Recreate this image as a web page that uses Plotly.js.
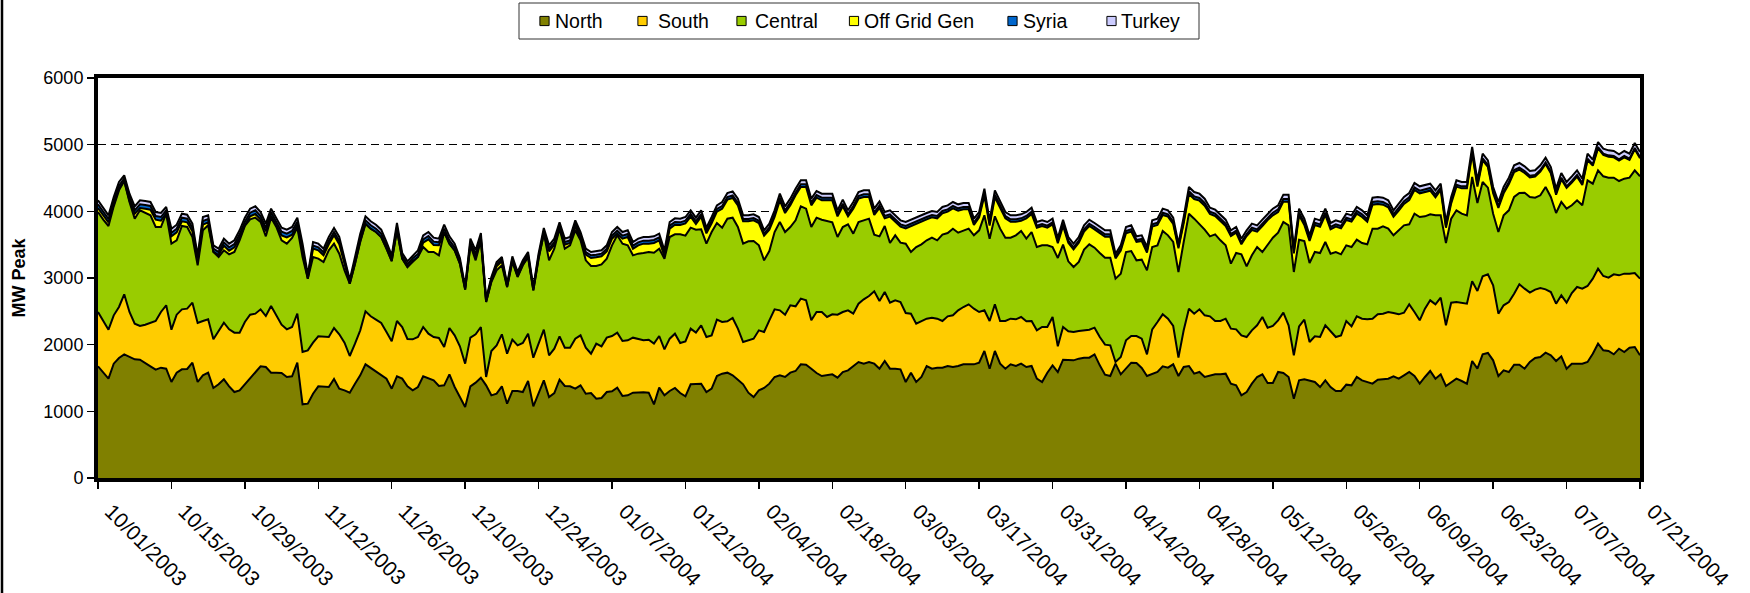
<!DOCTYPE html>
<html>
<head>
<meta charset="utf-8">
<script src="https://cdn.plot.ly/plotly-3.0.1.min.js"></script>
<style>html,body{margin:0;padding:0;background:#fff;}#chart{width:1750px;height:593px;}</style>
</head>
<body>
<div id="chart"></div>
<script>
// ---- categories: one value per day, starting 10/01/2003 (day 0) to 07/21/2004 (day 294)
const startDay = '2003-10-01';
const tickDates = ['2003-10-01','2003-10-15','2003-10-29','2003-11-12','2003-11-26','2003-12-10','2003-12-24',
  '2004-01-07','2004-01-21','2004-02-04','2004-02-18','2004-03-03','2004-03-17','2004-03-31','2004-04-14',
  '2004-04-28','2004-05-12','2004-05-26','2004-06-09','2004-06-23','2004-07-07','2004-07-21'];
const tickLabels = ['10/01/2003','10/15/2003','10/29/2003','11/12/2003','11/26/2003','12/10/2003','12/24/2003',
  '01/07/2004','01/21/2004','02/04/2004','02/18/2004','03/03/2004','03/17/2004','03/31/2004','04/14/2004',
  '04/28/2004','05/12/2004','05/26/2004','06/09/2004','06/23/2004','07/07/2004','07/21/2004'];
const seriesNames = ['North','South','Central','Off Grid Gen','Syria','Turkey'];

// ---- values (MW). Boundaries of the stacked areas.
// top of North band (= North)
const northTop = [
1675,1580,1490,1715,1800,1855,1815,1780,1775,1730,1675,1625,1655,1640,1440,1580,1630,1635,1730,1440,1540,1580,1350,1405,1480,1375,1290,1315,1405,1490,1580,1675,1665,1580,1580,1575,1515,1525,
1730,1105,1115,1265,1375,1365,1365,1485,1340,1315,1280,1415,1540,1705,1650,1600,1540,1490,1340,1525,1490,1375,1315,1365,1525,1500,1465,1380,1390,1555,1365,1215,1065,1375,1430,1505,
1390,1240,1265,1375,1115,1305,1305,1290,1455,1075,1265,1465,1215,1275,1475,1380,1375,1340,1390,1265,1275,1190,1200,1290,1300,1355,1230,1240,1280,1285,1285,1280,1105,1355,1240,1305,
1350,1275,1225,1405,1415,1415,1290,1340,1530,1565,1580,1540,1475,1405,1280,1215,1315,1350,1415,1515,1540,1515,1580,1605,1705,1700,1640,1575,1530,1540,1555,1505,1590,1615,1675,1740,1715,1740,
1715,1640,1755,1640,1640,1630,1440,1580,1440,1515,1680,1640,1655,1655,1680,1665,1680,1705,1705,1705,1730,1905,1640,1905,1715,1640,1705,1680,1715,1665,1680,1490,1440,1580,1690,
1590,1775,1775,1765,1790,1805,1805,1855,1690,1550,1530,1715,1555,1640,1730,1725,1650,1530,1555,1590,1675,1655,1705,1530,1665,1680,1565,1590,1515,1530,1555,1555,1565,1415,1390,1240,1290,
1415,1515,1555,1425,1425,1590,1575,1515,1190,1465,1480,1465,1440,1365,1465,1365,1305,1305,1400,1390,1515,1465,1440,1415,1475,1480,1490,1525,1490,1540,1590,1530,1415,1515,1605,1490,1555,
1380,1440,1490,1455,1415,1755,1640,1855,1875,1765,1530,1615,1590,1700,1700,1640,1740,1800,1815,1880,1840,1755,1825,1640,1715,1715,1715,1740,1865,2015,1915,1905,1855,1940,1890,1955,1965,1840];
// top of South band (North + South)
const southTop = [
2490,2355,2225,2440,2565,2755,2490,2315,2280,2300,2325,2355,2490,2590,2225,2450,2530,2540,2630,2325,2355,2380,2080,2215,2330,2230,2180,2180,2340,2450,2465,2530,2430,2580,2430,2300,2230,2265,
2465,1890,1915,2030,2125,2115,2115,2250,2155,2030,1830,2015,2215,2500,2425,2375,2325,2190,2050,2355,2265,2085,2080,2115,2265,2165,2115,2100,1965,2250,2140,1975,1715,2105,2155,2265,
1515,1905,1990,2155,1865,2075,1990,2025,2165,1805,2015,2225,1840,1940,2125,1955,1955,2090,2140,1955,1865,2015,1975,2105,2130,2180,2055,2065,2105,2080,2065,2075,2015,2130,1930,2090,
2165,2025,2050,2240,2180,2290,2115,2140,2375,2340,2350,2400,2240,2040,2065,2090,2215,2190,2365,2530,2515,2450,2590,2575,2690,2665,2365,2490,2490,2415,2455,2450,2490,2515,2465,2615,2680,2730,
2800,2655,2790,2630,2665,2640,2475,2465,2315,2355,2390,2405,2390,2355,2425,2440,2515,2565,2605,2540,2490,2515,2355,2605,2355,2355,2390,2380,2415,2350,2355,2215,2265,2265,2415,
1975,2265,2200,2190,2205,2215,2225,2255,2115,2000,1990,1740,1815,2065,2130,2130,2090,1855,2230,2340,2455,2390,2280,1805,2215,2540,2465,2530,2440,2425,2355,2355,2390,2240,2230,2140,2115,
2215,2290,2415,2255,2280,2365,2480,2290,1840,2275,2375,2040,2125,2115,2290,2200,2115,2140,2355,2275,2425,2390,2380,2390,2455,2465,2490,2475,2455,2480,2605,2490,2365,2540,2665,2605,2705,
2290,2630,2640,2630,2615,2950,2805,3025,3055,2890,2465,2590,2640,2765,2905,2840,2780,2825,2850,2830,2790,2615,2740,2630,2775,2865,2840,2880,2990,3140,3030,3005,3055,3040,3065,3065,3075,2990];
// top of Central band
const centralTop = [
3990,3875,3780,4075,4315,4455,4140,3890,4015,3975,3940,3765,3765,3965,3515,3565,3780,3765,3615,3190,3715,3790,3390,3315,3415,3355,3390,3565,3780,3880,3905,3840,3625,3905,3765,3565,3515,3600,
3755,3315,2990,3315,3290,3240,3415,3515,3365,3115,2915,3215,3540,3815,3740,3690,3615,3440,3255,3715,3290,3165,3240,3315,3465,3390,3390,3340,3690,3515,3415,3215,2825,3490,3265,3565,
2640,2940,3115,3190,2865,3240,3015,3190,3315,2815,3290,3665,3265,3440,3740,3440,3490,3715,3565,3265,3180,3180,3205,3290,3490,3640,3515,3490,3340,3365,3375,3390,3380,3440,3290,3615,
3655,3655,3635,3755,3725,3730,3515,3690,3825,3755,3890,3905,3765,3515,3550,3555,3490,3265,3405,3690,3840,3690,3765,3865,4075,4040,3765,3905,3875,3850,3835,3615,3765,3805,3665,3840,3865,3890,
3650,3625,3780,3525,3640,3530,3515,3390,3465,3505,3565,3605,3565,3650,3675,3740,3680,3715,3740,3640,3715,3940,3590,3925,3740,3605,3605,3640,3705,3590,3690,3465,3490,3490,3465,
3300,3500,3250,3165,3240,3425,3505,3455,3375,3305,3305,2990,3065,3390,3405,3265,3275,3115,3465,3490,3705,3640,3540,3090,3540,3965,3890,3815,3725,3625,3655,3565,3490,3215,3375,3355,3175,
3340,3465,3390,3490,3605,3680,3840,3790,3090,3575,3555,3225,3390,3375,3540,3365,3390,3355,3490,3465,3575,3525,3505,3740,3740,3775,3740,3640,3715,3790,3805,3965,3915,3925,3955,3940,3940,
3525,3890,4015,3965,3940,4515,4125,4440,4355,3965,3690,3940,4015,4215,4275,4280,4215,4205,4240,4365,4215,3975,4140,4040,4090,4165,4090,4465,4415,4615,4525,4505,4505,4455,4490,4505,4615,4525];
// top of the whole stack (upper outline)
const totalTop = [
4165,4055,3940,4215,4440,4525,4265,4075,4165,4155,4140,3990,3975,4065,3740,3800,3965,3950,3815,3340,3915,3940,3490,3440,3590,3515,3565,3715,3905,4040,4075,3990,3815,4040,3890,3755,3725,3765,
3905,3515,3015,3540,3515,3440,3615,3750,3615,3315,2940,3290,3665,3890,3840,3790,3715,3540,3290,3790,3315,3250,3340,3405,3640,3690,3605,3590,3790,3565,3490,3240,2865,3515,3415,3615,
2690,3015,3240,3315,2915,3325,3090,3265,3390,2865,3365,3740,3490,3590,3815,3590,3615,3865,3690,3440,3390,3400,3415,3490,3690,3765,3690,3715,3540,3590,3615,3615,3625,3665,3415,3840,
3895,3890,3915,4015,3905,4015,3755,3915,4090,4140,4275,4300,4190,3940,3940,3955,3915,3715,3815,4015,4265,4075,4190,4340,4465,4465,4190,4305,4265,4265,4265,4015,4175,4015,4140,4290,4315,4315,
4040,4150,3990,4015,3940,3865,3840,3875,3915,3940,3975,4005,3990,4065,4090,4140,4105,4125,4125,3890,3990,4340,3865,4315,4140,3990,3940,3940,3955,3990,4055,3840,3865,3840,3890,
3600,3875,3615,3515,3615,3790,3875,3825,3765,3715,3715,3365,3490,3765,3790,3625,3640,3465,3865,3890,4040,4015,3905,3515,3915,4365,4290,4265,4190,4055,4025,3955,3875,3715,3765,3590,3715,
3815,3790,3875,3965,4040,4090,4250,4250,3440,4040,3890,3640,3890,3865,4040,3825,3865,3840,3965,3940,4065,4015,3940,4205,4215,4205,4165,4015,4115,4215,4275,4425,4375,4390,4415,4315,4415,
3840,4215,4465,4440,4440,4965,4465,4865,4765,4365,4140,4365,4505,4690,4725,4675,4605,4615,4690,4805,4665,4340,4575,4440,4525,4615,4490,4865,4775,5040,4940,4915,4905,4855,4905,4865,5025,4890];
// thin top bands (MW)
const syria = [
55,50,50,50,45,40,50,50,55,55,55,55,55,45,55,55,55,55,55,45,55,50,45,45,50,50,50,55,55,55,55,55,55,50,55,55,55,55,
50,45,30,45,45,45,50,50,50,45,30,45,50,50,50,50,50,45,40,50,40,40,40,45,50,50,50,45,50,50,45,40,25,45,45,50,
25,30,30,30,25,30,30,30,35,25,35,40,40,40,45,40,40,45,40,40,40,40,40,40,45,45,45,45,45,45,45,45,45,45,40,45,
40,40,40,40,40,40,35,40,40,40,40,40,40,35,35,35,35,30,35,40,40,40,40,40,40,40,40,40,40,40,40,35,40,35,40,40,40,40,
35,40,35,35,35,35,35,35,35,35,35,35,35,35,35,35,35,35,35,35,30,40,30,40,35,35,35,35,35,35,35,30,30,30,30,
30,35,30,30,30,35,35,35,35,35,35,25,30,35,35,30,30,30,35,35,35,35,35,25,35,40,40,40,40,35,35,35,35,30,30,30,30,
35,35,35,35,40,40,40,40,25,40,35,30,35,35,35,35,35,35,35,35,40,40,35,40,40,40,40,35,40,40,40,40,40,40,40,40,35,
30,35,30,30,30,30,30,30,30,30,30,30,30,30,30,30,25,25,25,25,25,25,25,25,25,25,25,20,20,20,20,20,20,20,20,20,20,20];
const turkey = [
60,60,55,60,55,45,55,60,60,60,60,60,60,50,60,60,60,60,60,50,60,55,50,50,55,55,55,60,60,60,60,60,60,55,60,60,60,60,
60,55,30,55,55,55,60,60,60,55,30,55,60,60,60,60,60,55,45,60,45,45,45,55,60,60,60,55,60,60,55,45,25,55,55,60,
25,30,35,35,25,35,35,35,40,25,40,45,50,50,50,50,50,50,50,50,50,50,50,50,55,55,55,55,55,55,55,55,55,55,50,55,
55,55,55,55,55,55,50,55,55,60,60,60,60,55,55,55,55,50,55,60,60,60,60,60,60,60,60,60,60,60,60,55,60,55,60,60,60,60,
60,60,60,60,60,60,60,60,60,60,60,60,60,60,60,60,60,60,60,60,50,65,50,65,60,60,60,60,60,60,60,55,55,55,55,
50,60,55,55,55,60,60,60,60,60,60,45,50,60,60,55,55,55,60,60,60,60,60,45,60,65,65,65,65,60,60,60,60,55,55,55,55,
60,60,60,60,60,60,65,65,45,60,60,55,60,60,60,60,60,60,60,60,60,60,60,65,65,65,65,60,65,65,65,65,65,65,65,65,60,
55,60,65,65,65,70,65,70,70,65,60,65,65,70,70,70,70,70,70,70,70,65,70,65,70,70,70,75,70,75,75,75,75,75,75,75,75,75];

const colors = ['#808000','#FFCC00','#99CC00','#FFFF00','#0066CC','#CCCCFF'];

// ---- series values from the read boundaries
const north = northTop.slice();
const south = southTop.map((v,i)=>v-northTop[i]);
const central = centralTop.map((v,i)=>v-southTop[i]);
const offGrid = totalTop.map((v,i)=>Math.max(0, v-centralTop[i]-syria[i]-turkey[i]));
const seriesValues = [north, south, central, offGrid, syria, turkey];

const t0 = Date.parse(startDay + 'T00:00:00Z');
const dates = north.map((_,i)=>new Date(t0 + i*86400000).toISOString().slice(0,10));

const FONT = 'Liberation Sans, Arial, sans-serif';
const traces = seriesValues.map((vals,k)=>({
  type:'scatter', mode:'lines', x:dates, y:vals, name:seriesNames[k],
  stackgroup:'one', line:{color:'#000', width:2}, fillcolor:colors[k],
  showlegend:false, hoverinfo:'skip'
}));

// ---- page geometry (pixels)
const W=1750, H=593, L=98, R=110, T=78, B=115;
const pw = W-L-R, ph = H-T-B;
const px = x => (x-L)/pw;           // pixel x -> paper
const py = y => 1-(y-T)/ph;         // pixel y (from top) -> paper

// legend drawn as a box with squares and text (legend layout positions in px)
const legBox = {x0:519, x1:1199, y0:3, y1:39};
const legMarkX = [544.5, 642.5, 741.5, 854, 1012.5, 1111.5];
const legTextX = [553, 656, 753, 862, 1021, 1119];
const legY = 21, mk = 4.6;

const shapes = [
  {type:'line', xref:'paper', yref:'paper', x0:px(2), x1:px(2), y0:py(H), y1:py(0), line:{color:'#000', width:2.5}},
  {type:'rect', xref:'paper', yref:'paper', x0:px(legBox.x0), x1:px(legBox.x1), y0:py(legBox.y1), y1:py(legBox.y0),
    line:{color:'#333', width:1}, fillcolor:'#fff'}
];
const annotations = [];
seriesNames.forEach((n,k)=>{
  shapes.push({type:'rect', xref:'paper', yref:'paper',
    x0:px(legMarkX[k]-mk), x1:px(legMarkX[k]+mk), y0:py(legY+mk), y1:py(legY-mk),
    line:{color:'#000', width:1}, fillcolor:colors[k]});
  annotations.push({xref:'paper', yref:'paper', x:px(legTextX[k]), y:py(legY), xanchor:'left', yanchor:'middle',
    text:n, showarrow:false, font:{family:FONT, size:19.5, color:'#000'}});
});

const layout = {
  width:W, height:H,
  margin:{l:L, r:R, t:T, b:B, pad:0},
  paper_bgcolor:'#fff', plot_bgcolor:'#fff',
  font:{family:FONT, color:'#000', size:18},
  showlegend:false,
  xaxis:{
    type:'date', range:['2003-10-01','2004-07-21'], autorange:false,
    tickmode:'array', tickvals:tickDates, ticktext:tickLabels, tickangle:45,
    ticks:'outside', ticklen:7, tickwidth:1.5, tickcolor:'#000',
    ticklabelshift:13, ticklabelstandoff:2,
    showline:true, linewidth:4, linecolor:'#000', mirror:true,
    showgrid:false, zeroline:false,
    tickfont:{family:FONT, size:21, color:'#000'}
  },
  yaxis:{
    range:[0,6000], autorange:false, tickmode:'linear', tick0:0, dtick:1000,
    ticks:'outside', ticklen:7, tickwidth:1.5, tickcolor:'#000',
    showline:true, linewidth:4, linecolor:'#000', mirror:true,
    showgrid:true, gridcolor:'#000', gridwidth:1, griddash:'8px,5px', zeroline:false,
    tickfont:{family:FONT, size:18, color:'#000'},
    title:{text:'<b>MW Peak</b>', font:{family:FONT, size:18, color:'#000'}, standoff:14}
  },
  shapes:shapes,
  annotations:annotations,
  hovermode:false
};

Plotly.newPlot('chart', traces, layout, {staticPlot:true, displayModeBar:false});
</script>
</body>
</html>
